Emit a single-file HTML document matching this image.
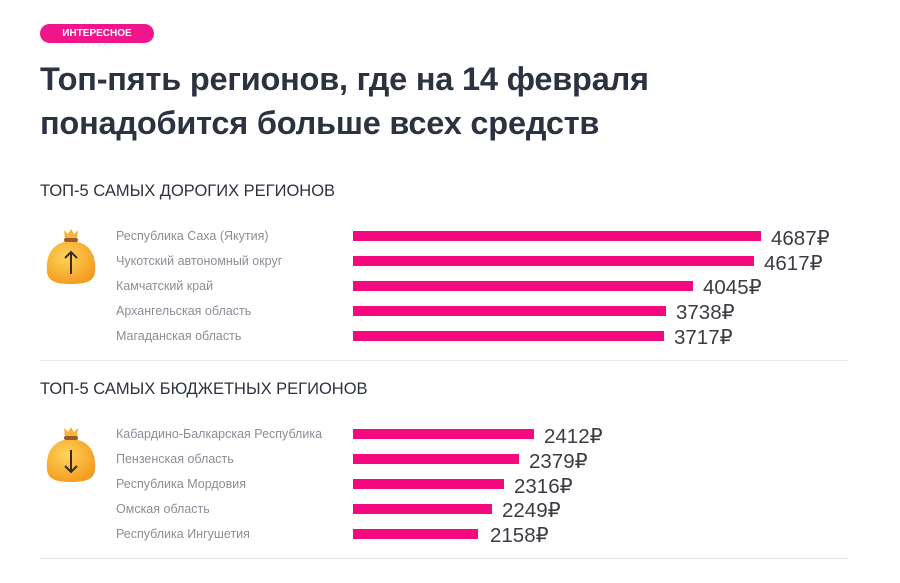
<!DOCTYPE html>
<html><head><meta charset="utf-8"><style>
body{margin:0;width:900px;height:583px;background:#fff;font-family:"Liberation Sans","DejaVu Sans",sans-serif;position:relative;overflow:hidden}
.a{position:absolute}
.tag{left:40px;top:24px;width:114px;height:19px;border-radius:10px;background:#f0158a;color:#fff;font-size:10px;font-weight:bold;text-align:center;line-height:19px}
h1{position:absolute;left:40px;top:57px;margin:0;font-size:32.5px;line-height:44px;color:#2d3240;font-weight:bold;letter-spacing:-0.2px}
.sub{left:40px;font-size:16.5px;color:#2d3240}
.lab{left:116px;font-size:12.5px;color:#8a8e96}
.bar{left:353px;height:10px;background:#f5097f}
.val{font-size:20.5px;color:#3a3d44}
.hr{left:40px;width:808px;height:1px;background:#e8e8ec}
</style></head><body>
<div class="a tag">ИНТЕРЕСНОЕ</div>
<h1>Топ-пять регионов, где на 14 февраля<br>понадобится больше всех средств</h1>
<div class="a sub" style="top:182px">ТОП-5 САМЫХ ДОРОГИХ РЕГИОНОВ</div>
<div class="a sub" style="top:380px">ТОП-5 САМЫХ БЮДЖЕТНЫХ РЕГИОНОВ</div>
<div class="a hr" style="top:360px"></div>
<div class="a hr" style="top:558px"></div>

<svg class="a" style="left:44px;top:226px" width="54" height="62" viewBox="0 0 54 62">
<defs><radialGradient id="g" cx="0.4" cy="0.35" r="0.7"><stop offset="0" stop-color="#ffd35a"/><stop offset="1" stop-color="#f39a1e"/></radialGradient></defs>
<path d="M20 4 L24 8 L27 3 L30 8 L34 4 L33 14 L21 14Z" fill="#f7b33a"/>
<rect x="20" y="12" width="14" height="4" rx="2" fill="#9a5a2a"/>
<path d="M20 16 C4 20 2 36 3 46 C4 56 14 58 27 58 C40 58 50 56 51 46 C52 36 50 20 34 16Z" fill="url(#g)"/>
<path d="M27 48 V26 M21 32 L27 26 L33 32" stroke="#3a2a22" stroke-width="2" fill="none"/>
</svg>
<svg class="a" style="left:44px;top:424px" width="54" height="62" viewBox="0 0 54 62">
<path d="M20 4 L24 8 L27 3 L30 8 L34 4 L33 14 L21 14Z" fill="#f7b33a"/>
<rect x="20" y="12" width="14" height="4" rx="2" fill="#9a5a2a"/>
<path d="M20 16 C4 20 2 36 3 46 C4 56 14 58 27 58 C40 58 50 56 51 46 C52 36 50 20 34 16Z" fill="url(#g)"/>
<path d="M27 26 V48 M21 42 L27 48 L33 42" stroke="#3a2a22" stroke-width="2" fill="none"/>
</svg>

<div class="a lab" style="top:229px">Республика Саха (Якутия)</div>
<div class="a lab" style="top:254px">Чукотский автономный округ</div>
<div class="a lab" style="top:279px">Камчатский край</div>
<div class="a lab" style="top:304px">Архангельская область</div>
<div class="a lab" style="top:329px">Магаданская область</div>
<div class="a bar" style="top:231px;width:408px"></div>
<div class="a bar" style="top:256px;width:401px"></div>
<div class="a bar" style="top:281px;width:340px"></div>
<div class="a bar" style="top:306px;width:313px"></div>
<div class="a bar" style="top:331px;width:311px"></div>
<div class="a val" style="left:771px;top:226px">4687₽</div>
<div class="a val" style="left:764px;top:251px">4617₽</div>
<div class="a val" style="left:703px;top:275px">4045₽</div>
<div class="a val" style="left:676px;top:300px">3738₽</div>
<div class="a val" style="left:674px;top:325px">3717₽</div>

<div class="a lab" style="top:427px">Кабардино-Балкарская Республика</div>
<div class="a lab" style="top:452px">Пензенская область</div>
<div class="a lab" style="top:477px">Республика Мордовия</div>
<div class="a lab" style="top:502px">Омская область</div>
<div class="a lab" style="top:527px">Республика Ингушетия</div>
<div class="a bar" style="top:429px;width:181px"></div>
<div class="a bar" style="top:454px;width:166px"></div>
<div class="a bar" style="top:479px;width:151px"></div>
<div class="a bar" style="top:504px;width:139px"></div>
<div class="a bar" style="top:529px;width:125px"></div>
<div class="a val" style="left:544px;top:424px">2412₽</div>
<div class="a val" style="left:529px;top:449px">2379₽</div>
<div class="a val" style="left:514px;top:474px">2316₽</div>
<div class="a val" style="left:502px;top:498px">2249₽</div>
<div class="a val" style="left:490px;top:523px">2158₽</div>
</body></html>
